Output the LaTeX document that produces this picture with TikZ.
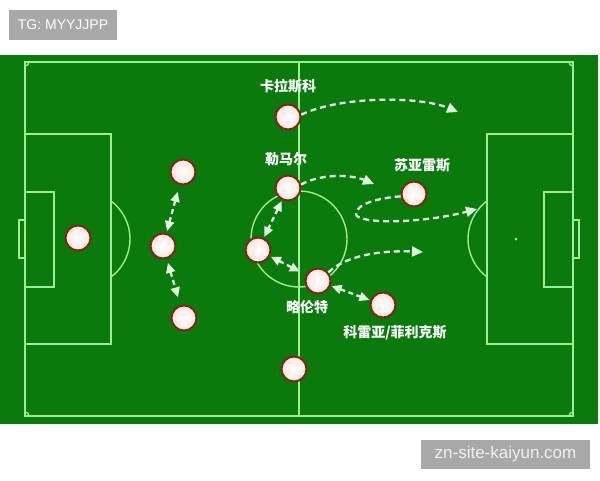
\documentclass[tikz,border=0pt]{standalone}
\usepackage{fontspec}
\setmainfont{Liberation Sans}
\newfontfamily\cjk{Noto Sans CJK SC}
\usetikzlibrary{arrows.meta}
\definecolor{field}{RGB}{10,122,12}
\definecolor{pline}{RGB}{160,235,150}
\definecolor{pborder}{RGB}{125,40,20}
\definecolor{wm}{RGB}{168,168,168}
\definecolor{arr}{RGB}{225,245,225}
\tikzset{
  pitch/.style={draw=pline, line width=1.4pt},
  player/.style={circle, draw=pborder, line width=2pt, inner sep=0pt, minimum size=25pt, inner color=white, outer color={rgb,255:red,255;green,228;blue,222}},
  lbl/.style={text=white, font=\cjk\bfseries\fontsize{14}{15}\selectfont, inner sep=0pt},
  run/.style={draw=arr, line width=2.3pt, dash pattern=on 6pt off 4pt, -{Triangle[length=11pt,width=10pt]}},
  dbl/.style={draw=arr, line width=2.3pt, dash pattern=on 5pt off 3.5pt, {Triangle[length=10pt,width=9pt]}-{Triangle[length=10pt,width=9pt]}},
  wmtext/.style={text=white, font=\fontsize{14}{16}\selectfont, inner sep=0pt}
}
\begin{document}
\begin{tikzpicture}[x=1pt,y=-1pt]
\useasboundingbox (0,0) rectangle (600,480);
% field
\fill[field] (0,55) rectangle (598,424);
% pitch lines
\draw[pitch] (25,62) rectangle (573,416);
\draw[pitch] (299,62) -- (299,416);
\draw[pitch] (299,239) circle (48);
\draw[pitch] (25,134) rectangle (111,344);
\draw[pitch] (25,192) rectangle (54,287);
\draw[pitch] (25,220) -- (19,220) -- (19,258) -- (25,258);
\draw[pitch] (111,201) arc[start angle=-53.1, end angle=53.1, radius=47.5];
\draw[pitch] (487,134) rectangle (573,344);
\draw[pitch] (544,192) rectangle (573,287);
\draw[pitch] (573,220) -- (579,220) -- (579,258) -- (573,258);
\draw[pitch] (487,201) arc[start angle=233.1, end angle=126.9, radius=47.5];
\fill[pline] (516,239) circle (1.5);
\draw[pitch] (29,62) arc[start angle=0, end angle=90, radius=4];
\draw[pitch] (569,62) arc[start angle=180, end angle=90, radius=4];
\draw[pitch] (29,416) arc[start angle=0, end angle=-90, radius=4];
\draw[pitch] (569,416) arc[start angle=180, end angle=270, radius=4];
% players
\node[player] (gk) at (78,238) {};
\node[player] (d1) at (183,172) {};
\node[player] (d2) at (163,246) {};
\node[player] (d3) at (184,318) {};
\node[player] (kar) at (288,117) {};
\node[player] (lem) at (288,188) {};
\node[player] (lcm) at (258,250) {};
\node[player] (llo) at (318,281) {};
\node[player] (cor) at (383,305) {};
\node[player] (sua) at (414,194) {};
\node[player] (bot) at (294,369) {};
% labels
\node[lbl] (lkar) at (288,86) {卡拉斯科};
\node[lbl] (llem) at (286,159) {勒马尔};
\node[lbl] (lsua) at (422,165) {苏亚雷斯};
\node[lbl] (lllo) at (307,307) {略伦特};
\node[lbl] (lcor) at (395,333) {科雷亚/菲利克斯};
% runs
\coordinate (t1) at (458,112);
\coordinate (t2) at (374,184);
\coordinate (t3) at (477,209);
\coordinate (t4) at (423,252);
\draw[run] (kar.10) .. controls (340,96) and (420,96) .. (t1);
\draw[run] (lem.15) .. controls (320,174) and (350,174) .. (t2);
\draw[run] (sua.190) .. controls (378,198) and (356,204) .. (356,214) .. controls (356,224) and (420,224) .. (t3);
\draw[run] (llo.40) .. controls (345,256) and (380,250) .. (t4);
% passes
\draw[dbl, shorten <=7pt, shorten >=2pt] (d1) -- (d2);
\draw[dbl, shorten <=4pt, shorten >=8pt] (d2) -- (d3);
\draw[dbl, shorten <=1pt, shorten >=1pt] (lem) -- (lcm);
\draw[dbl, shorten <=1pt, shorten >=7pt] (lcm) -- (llo);
\draw[dbl, shorten <=1pt, shorten >=1pt] (llo) -- (cor);
% watermarks
\node[fill=wm, minimum width=108pt, minimum height=30pt, inner sep=0pt] (wm1) at (63,25) {};
\node[wmtext] (wm1t) at (wm1) {TG: MYYJJPP};
\node[fill=wm, minimum width=169pt, minimum height=29pt, inner sep=0pt] (wm2) at (505.5,454.5) {};
\node[wmtext, text={rgb,255:red,240;green,240;blue,240}, font=\fontsize{17}{19}\selectfont] (wm2t) at (wm2) {zn-site-kaiyun.com};
\end{tikzpicture}
\end{document}
